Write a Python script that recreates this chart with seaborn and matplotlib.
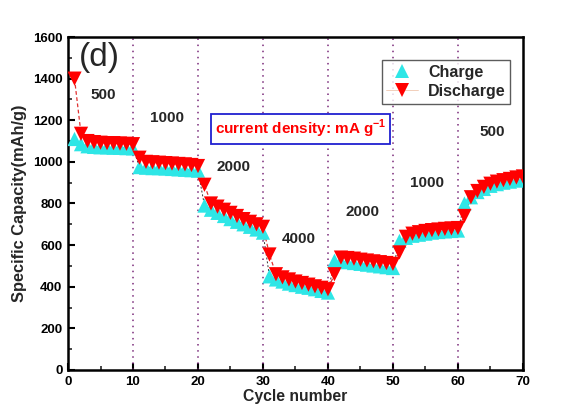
import numpy as np
import pandas as pd
import matplotlib
matplotlib.use("Agg")
import matplotlib.pyplot as plt
from matplotlib.lines import Line2D
from matplotlib.ticker import MultipleLocator
import seaborn as sns

cycles = list(range(1, 71))

charge = [1110, 1085, 1075, 1072, 1070, 1070, 1068, 1068, 1066, 1065,
          975, 972, 970, 970, 968, 966, 964, 962, 960, 958,
          790, 770, 755, 740, 725, 712, 700, 688, 675, 660,
          450, 435, 425, 415, 408, 400, 395, 388, 380, 372,
          525, 522, 518, 514, 510, 506, 502, 498, 494, 490,
          620, 635, 645, 650, 655, 660, 663, 666, 668, 670,
          800, 830, 855, 870, 885, 893, 900, 905, 910, 915]

discharge = [1400, 1135, 1100, 1095, 1092, 1090, 1090, 1088, 1087, 1085,
             1020, 1000, 998, 996, 994, 992, 990, 988, 985, 980,
             890, 800, 785, 770, 755, 740, 725, 712, 700, 688,
             555, 460, 445, 435, 425, 418, 410, 402, 395, 388,
             460, 540, 538, 535, 530, 526, 522, 518, 514, 510,
             565, 640, 655, 662, 668, 672, 675, 678, 680, 682,
             740, 830, 860, 880, 895, 905, 912, 918, 925, 930]

rate_labels = ["500", "1000", "2000", "4000", "2000", "1000", "500"]
rate_label_x = [5.4, 15.2, 25.5, 35.5, 45.3, 55.2, 65.3]
rate_label_y = [1320, 1210, 976, 630, 760, 900, 1145]
rate_boundaries = [10, 20, 30, 40, 50, 60]

sns.set_theme(style="white")
plt.rcParams["font.family"] = ["Liberation Sans", "DejaVu Sans"]
plt.rcParams["font.weight"] = "bold"
plt.rcParams["mathtext.fontset"] = "custom"
plt.rcParams["mathtext.rm"] = "Liberation Sans:bold"
plt.rcParams["mathtext.bf"] = "Liberation Sans:bold"

fig = plt.figure(figsize=(5.63, 4.09), dpi=100)
ax = fig.add_axes([0.1208, 0.0954, 0.808, 0.8141])

df_c = pd.DataFrame({"Cycle": cycles, "Capacity": charge})
df_d = pd.DataFrame({"Cycle": cycles, "Capacity": discharge})

cyan = "#2ee6e6"
red = "#ff0000"

# rate-change markers
for xb in rate_boundaries:
    ax.axvline(xb, color="#7a2a7a", lw=1.1, ls=(0, (1, 3)), zorder=1)

# connecting dashed lines
sns.lineplot(data=df_c, x="Cycle", y="Capacity", ax=ax, color="#333333",
             lw=0.7, linestyle=(0, (2, 2)), zorder=2)
sns.lineplot(data=df_d, x="Cycle", y="Capacity", ax=ax, color="#e03030",
             lw=0.9, linestyle=(0, (3, 2)), zorder=3)

# markers
sns.scatterplot(data=df_c, x="Cycle", y="Capacity", ax=ax, marker="^",
                s=105, color=cyan, edgecolor="none", zorder=4)
sns.scatterplot(data=df_d, x="Cycle", y="Capacity", ax=ax, marker="v",
                s=105, color=red, edgecolor="none", zorder=5)

ax.set_xlim(0, 70)
ax.set_ylim(0, 1600)
ax.xaxis.set_major_locator(MultipleLocator(10))
ax.xaxis.set_minor_locator(MultipleLocator(5))
ax.yaxis.set_major_locator(MultipleLocator(200))
ax.yaxis.set_minor_locator(MultipleLocator(100))
ax.tick_params(which="major", direction="in", length=5, width=1.5,
               labelsize=9.5, pad=4, colors="black")
ax.tick_params(which="minor", direction="in", length=3, width=1.2)
ax.tick_params(bottom=True, left=True, which="both")
for lbl in ax.get_xticklabels() + ax.get_yticklabels():
    lbl.set_fontweight("bold")
for sp in ax.spines.values():
    sp.set_linewidth(1.8)
    sp.set_color("black")

ax.set_xlabel("Cycle number", fontsize=11.3, fontweight="bold", labelpad=1)
ax.set_ylabel("Specific Capacity(mAh/g)", fontsize=11.8, fontweight="bold", labelpad=4)

ax.text(4.9, 1500, "(d)", fontsize=24, fontweight="normal", ha="center", va="center")
for t, x, y in zip(rate_labels, rate_label_x, rate_label_y):
    ax.text(x, y, t, fontsize=11, fontweight="bold", ha="center", va="center")

ax.text(35.8, 1158, r"current density: mA g$^{\mathbf{-1}}$", fontsize=11,
        fontweight="bold", color=red, ha="center", va="center",
        bbox=dict(boxstyle="square,pad=0.25", fc="white", ec="#2020d0", lw=1.3))

handles = [
    Line2D([], [], marker="^", color=cyan, ls="none", markersize=10, markeredgewidth=0),
    Line2D([], [], marker="v", color="#f0c8b0", ls="-", lw=0.6, markersize=10,
           markeredgewidth=0, markerfacecolor=red),
]
leg = ax.legend(handles, ["Charge", "Discharge"], loc="upper right",
                bbox_to_anchor=(0.99, 0.955), frameon=True,
                fancybox=False, edgecolor="#333333", handlelength=2.0,
                handletextpad=0.6, borderpad=0.3, labelspacing=0.25,
                prop={"weight": "bold", "size": 11.5})
leg.get_frame().set_linewidth(1.0)

fig.savefig("out.png", dpi=100)
